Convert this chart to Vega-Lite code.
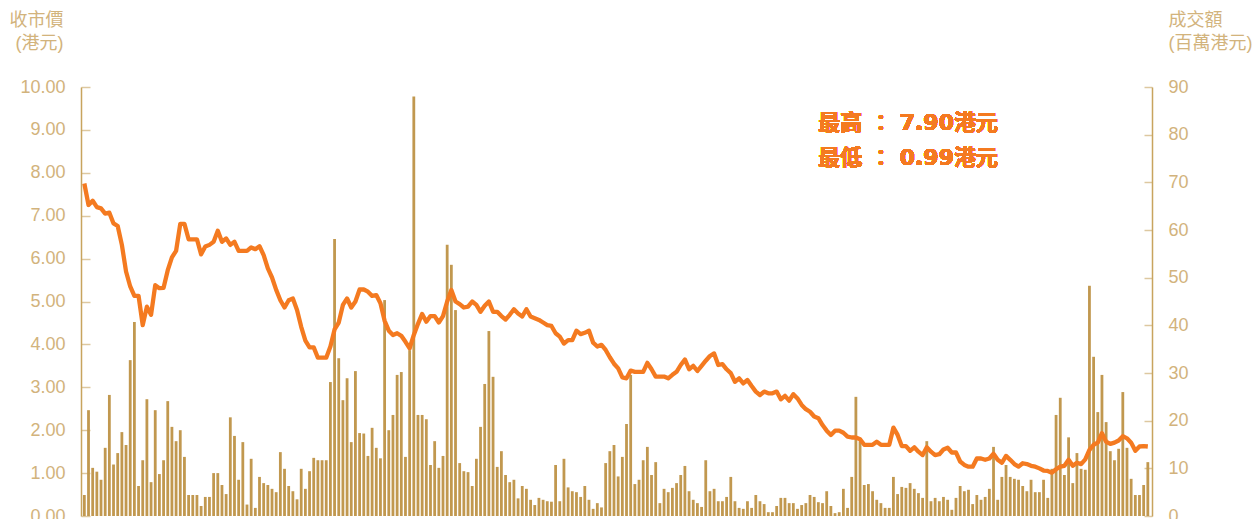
{
"$schema":"https://vega.github.io/schema/vega-lite/v6.json",
"width":1071,"height":429,
"autosize":{"type":"none"},
"padding":{"left":81,"top":87,"right":103,"bottom":3},
"config":{"font":"Liberation Sans, Noto Sans CJK TC","view":{"stroke":null}},
"data":{"values":[
{"i":0,"p":7.75,"v":4.4},{"i":1,"p":7.25,"v":22.2},{"i":2,"p":7.35,"v":10.1},{"i":3,"p":7.2,"v":9.3},{"i":4,"p":7.17,"v":7.6},{"i":5,"p":7.05,"v":14.3},{"i":6,"p":7.07,"v":25.4},{"i":7,"p":6.82,"v":10.8},{"i":8,"p":6.76,"v":13.2},{"i":9,"p":6.32,"v":17.6},
{"i":10,"p":5.7,"v":14.9},{"i":11,"p":5.35,"v":32.7},{"i":12,"p":5.13,"v":40.7},{"i":13,"p":5.13,"v":6.3},{"i":14,"p":4.45,"v":11.7},{"i":15,"p":4.88,"v":24.5},{"i":16,"p":4.69,"v":7.1},{"i":17,"p":5.38,"v":22.2},{"i":18,"p":5.31,"v":8.8},{"i":19,"p":5.32,"v":11.7},
{"i":20,"p":5.73,"v":24.1},{"i":21,"p":6.03,"v":18.7},{"i":22,"p":6.18,"v":15.7},{"i":23,"p":6.81,"v":18.0},{"i":24,"p":6.81,"v":12.4},{"i":25,"p":6.45,"v":4.4},{"i":26,"p":6.45,"v":4.4},{"i":27,"p":6.45,"v":4.4},{"i":28,"p":6.1,"v":2.1},{"i":29,"p":6.28,"v":4.0},
{"i":30,"p":6.32,"v":4.0},{"i":31,"p":6.39,"v":9.0},{"i":32,"p":6.65,"v":9.0},{"i":33,"p":6.39,"v":6.5},{"i":34,"p":6.47,"v":4.6},{"i":35,"p":6.32,"v":20.7},{"i":36,"p":6.39,"v":16.8},{"i":37,"p":6.18,"v":7.6},{"i":38,"p":6.18,"v":15.5},{"i":39,"p":6.18,"v":2.4},
{"i":40,"p":6.26,"v":12.0},{"i":41,"p":6.22,"v":1.7},{"i":42,"p":6.29,"v":8.2},{"i":43,"p":6.08,"v":6.9},{"i":44,"p":5.77,"v":6.5},{"i":45,"p":5.56,"v":5.7},{"i":46,"p":5.27,"v":5.0},{"i":47,"p":5.03,"v":13.4},{"i":48,"p":4.86,"v":9.9},{"i":49,"p":5.03,"v":6.3},
{"i":50,"p":5.07,"v":5.2},{"i":51,"p":4.8,"v":3.5},{"i":52,"p":4.41,"v":9.9},{"i":53,"p":4.09,"v":5.7},{"i":54,"p":3.93,"v":9.4},{"i":55,"p":3.93,"v":12.2},{"i":56,"p":3.69,"v":11.7},{"i":57,"p":3.69,"v":11.7},{"i":58,"p":3.69,"v":11.7},{"i":59,"p":3.95,"v":28.1},
{"i":60,"p":4.35,"v":58.1},{"i":61,"p":4.51,"v":33.1},{"i":62,"p":4.92,"v":24.3},{"i":63,"p":5.07,"v":28.9},{"i":64,"p":4.86,"v":15.5},{"i":65,"p":5.0,"v":30.4},{"i":66,"p":5.28,"v":17.4},{"i":67,"p":5.28,"v":17.3},{"i":68,"p":5.23,"v":12.6},{"i":69,"p":5.13,"v":18.5},
{"i":70,"p":5.15,"v":14.3},{"i":71,"p":4.96,"v":12.1},{"i":72,"p":4.55,"v":45.3},{"i":73,"p":4.32,"v":18.0},{"i":74,"p":4.22,"v":21.2},{"i":75,"p":4.26,"v":29.6},{"i":76,"p":4.2,"v":30.2},{"i":77,"p":4.06,"v":12.4},{"i":78,"p":3.91,"v":34.8},{"i":79,"p":4.22,"v":88},
{"i":80,"p":4.48,"v":21.2},{"i":81,"p":4.71,"v":21.2},{"i":82,"p":4.53,"v":20.3},{"i":83,"p":4.66,"v":10.7},{"i":84,"p":4.66,"v":15.7},{"i":85,"p":4.51,"v":10.1},{"i":86,"p":4.66,"v":12.6},{"i":87,"p":5.0,"v":56.9},{"i":88,"p":5.27,"v":52.7},{"i":89,"p":5.0,"v":43.2},
{"i":90,"p":4.94,"v":11.1},{"i":91,"p":4.86,"v":9.4},{"i":92,"p":4.88,"v":9.2},{"i":93,"p":5.0,"v":6.3},{"i":94,"p":4.92,"v":12.0},{"i":95,"p":4.76,"v":18.7},{"i":96,"p":4.9,"v":27.7},{"i":97,"p":5.0,"v":38.8},{"i":98,"p":4.76,"v":29.2},{"i":99,"p":4.76,"v":10.3},
{"i":100,"p":4.66,"v":13.6},{"i":101,"p":4.58,"v":8.6},{"i":102,"p":4.69,"v":7.1},{"i":103,"p":4.82,"v":7.6},{"i":104,"p":4.72,"v":3.7},{"i":105,"p":4.65,"v":6.3},{"i":106,"p":4.82,"v":5.7},{"i":107,"p":4.65,"v":3.4},{"i":108,"p":4.61,"v":2.3},{"i":109,"p":4.57,"v":3.8},
{"i":110,"p":4.51,"v":3.4},{"i":111,"p":4.45,"v":3.1},{"i":112,"p":4.43,"v":3.0},{"i":113,"p":4.26,"v":10.7},{"i":114,"p":4.18,"v":3.1},{"i":115,"p":4.02,"v":12.0},{"i":116,"p":4.1,"v":6.0},{"i":117,"p":4.1,"v":5.2},{"i":118,"p":4.32,"v":5.0},{"i":119,"p":4.24,"v":4.0},
{"i":120,"p":4.27,"v":6.3},{"i":121,"p":4.32,"v":3.4},{"i":122,"p":4.04,"v":1.5},{"i":123,"p":3.95,"v":2.7},{"i":124,"p":3.99,"v":1.8},{"i":125,"p":3.87,"v":11.1},{"i":126,"p":3.7,"v":13.6},{"i":127,"p":3.55,"v":14.9},{"i":128,"p":3.44,"v":8.3},{"i":129,"p":3.23,"v":12.4},
{"i":130,"p":3.21,"v":19.3},{"i":131,"p":3.39,"v":29.6},{"i":132,"p":3.36,"v":6.7},{"i":133,"p":3.36,"v":7.6},{"i":134,"p":3.36,"v":11.7},{"i":135,"p":3.57,"v":14.5},{"i":136,"p":3.42,"v":8.6},{"i":137,"p":3.25,"v":11.3},{"i":138,"p":3.25,"v":2.7},{"i":139,"p":3.25,"v":5.7},
{"i":140,"p":3.21,"v":5.0},{"i":141,"p":3.29,"v":5.9},{"i":142,"p":3.36,"v":6.9},{"i":143,"p":3.52,"v":8.6},{"i":144,"p":3.65,"v":10.5},{"i":145,"p":3.42,"v":5.2},{"i":146,"p":3.5,"v":3.4},{"i":147,"p":3.38,"v":2.7},{"i":148,"p":3.5,"v":1.9},{"i":149,"p":3.62,"v":11.7},
{"i":150,"p":3.73,"v":5.2},{"i":151,"p":3.79,"v":5.7},{"i":152,"p":3.52,"v":3.1},{"i":153,"p":3.54,"v":3.1},{"i":154,"p":3.42,"v":4.0},{"i":155,"p":3.33,"v":8.2},{"i":156,"p":3.13,"v":3.1},{"i":157,"p":3.21,"v":1.7},{"i":158,"p":3.09,"v":1.5},{"i":159,"p":3.17,"v":3.1},
{"i":160,"p":3.03,"v":1.7},{"i":161,"p":2.9,"v":4.4},{"i":162,"p":2.82,"v":3.1},{"i":163,"p":2.9,"v":2.5},{"i":164,"p":2.86,"v":0.8},{"i":165,"p":2.86,"v":0.8},{"i":166,"p":2.9,"v":2.1},{"i":167,"p":2.72,"v":3.8},{"i":168,"p":2.8,"v":3.8},{"i":169,"p":2.69,"v":2.7},
{"i":170,"p":2.84,"v":2.7},{"i":171,"p":2.74,"v":1.5},{"i":172,"p":2.59,"v":2.3},{"i":173,"p":2.49,"v":2.7},{"i":174,"p":2.43,"v":4.4},{"i":175,"p":2.32,"v":4.0},{"i":176,"p":2.28,"v":2.9},{"i":177,"p":2.12,"v":2.7},{"i":178,"p":1.99,"v":5.2},{"i":179,"p":1.89,"v":2.1},
{"i":180,"p":1.99,"v":0.6},{"i":181,"p":1.99,"v":0.8},{"i":182,"p":1.94,"v":5.7},{"i":183,"p":1.85,"v":1.7},{"i":184,"p":1.83,"v":8.2},{"i":185,"p":1.83,"v":25.0},{"i":186,"p":1.79,"v":15.7},{"i":187,"p":1.66,"v":6.5},{"i":188,"p":1.66,"v":6.7},{"i":189,"p":1.66,"v":5.2},
{"i":190,"p":1.73,"v":3.4},{"i":191,"p":1.66,"v":2.7},{"i":192,"p":1.66,"v":1.7},{"i":193,"p":1.66,"v":1.7},{"i":194,"p":2.06,"v":8.2},{"i":195,"p":1.89,"v":4.6},{"i":196,"p":1.63,"v":6.1},{"i":197,"p":1.63,"v":5.9},{"i":198,"p":1.52,"v":6.9},{"i":199,"p":1.6,"v":5.7},
{"i":200,"p":1.5,"v":4.8},{"i":201,"p":1.42,"v":3.8},{"i":202,"p":1.6,"v":15.7},{"i":203,"p":1.5,"v":3.1},{"i":204,"p":1.42,"v":3.8},{"i":205,"p":1.44,"v":3.1},{"i":206,"p":1.55,"v":4.0},{"i":207,"p":1.59,"v":3.4},{"i":208,"p":1.48,"v":1.3},{"i":209,"p":1.48,"v":3.8},
{"i":210,"p":1.27,"v":6.3},{"i":211,"p":1.19,"v":5.2},{"i":212,"p":1.15,"v":5.5},{"i":213,"p":1.15,"v":2.5},{"i":214,"p":1.34,"v":4.4},{"i":215,"p":1.34,"v":3.4},{"i":216,"p":1.31,"v":4.0},{"i":217,"p":1.34,"v":5.7},{"i":218,"p":1.45,"v":14.5},{"i":219,"p":1.31,"v":3.4},
{"i":220,"p":1.24,"v":8.2},{"i":221,"p":1.4,"v":10.7},{"i":222,"p":1.31,"v":8.2},{"i":223,"p":1.21,"v":7.8},{"i":224,"p":1.15,"v":7.6},{"i":225,"p":1.23,"v":6.3},{"i":226,"p":1.21,"v":5.2},{"i":227,"p":1.17,"v":7.6},{"i":228,"p":1.15,"v":5.0},{"i":229,"p":1.11,"v":5.0},
{"i":230,"p":1.06,"v":7.6},{"i":231,"p":1.05,"v":3.8},{"i":232,"p":1.01,"v":9.9},{"i":233,"p":1.09,"v":21.2},{"i":234,"p":1.15,"v":24.8},{"i":235,"p":1.17,"v":8.6},{"i":236,"p":1.31,"v":16.5},{"i":237,"p":1.17,"v":6.9},{"i":238,"p":1.24,"v":13.2},{"i":239,"p":1.21,"v":9.9},
{"i":240,"p":1.32,"v":9.7},{"i":241,"p":1.54,"v":48.3},{"i":242,"p":1.66,"v":33.4},{"i":243,"p":1.71,"v":21.8},{"i":244,"p":1.93,"v":29.6},{"i":245,"p":1.73,"v":19.7},{"i":246,"p":1.68,"v":13.6},{"i":247,"p":1.71,"v":11.7},{"i":248,"p":1.76,"v":14.1},{"i":249,"p":1.86,"v":26.0},
{"i":250,"p":1.81,"v":14.3},{"i":251,"p":1.71,"v":7.8},{"i":252,"p":1.52,"v":4.4},{"i":253,"p":1.62,"v":4.4},{"i":254,"p":1.63,"v":6.5},{"i":255,"p":1.62,"v":11.3}
]},
"layer":[
{"mark":{"type":"bar","size":2.8,"color":"#C1984F"},
 "encoding":{
  "x":{"field":"i","type":"quantitative","scale":{"domain":[-0.8,256],"nice":false,"zero":false,"padding":0},
       "axis":{"labels":false,"ticks":false,"title":null,"grid":false,"domainColor":"#C8A45E","domainWidth":1.5}},
  "y":{"field":"v","type":"quantitative","scale":{"domain":[0,90],"nice":false},
       "axis":{"orient":"right","values":[0,10,20,30,40,50,60,70,80,90],"grid":false,
               "domainColor":"#C8A45E","domainWidth":1.5,"tickColor":"#DDC8A0","tickSize":-8,"tickWidth":1.5,
               "labelPadding":24,"labelFontSize":18,"labelColor":"#D2B37C",
               "title":["成交額","(百萬港元)"],"titleAngle":0,"titleAlign":"left","titleBaseline":"top",
               "titleX":16,"titleY":-76,"titleFontSize":18,"titleFontWeight":"normal","titleColor":"#D2B37C","titleLineHeight":23}}
 }},
{"layer":[
  {"mark":{"type":"line","color":"#F47A20","strokeWidth":4.3,"strokeJoin":"round"},
   "encoding":{
    "x":{"field":"i","type":"quantitative","axis":null},
    "y":{"field":"p","type":"quantitative","scale":{"domain":[0,10],"nice":false},
         "axis":{"orient":"left","values":[0,1,2,3,4,5,6,7,8,9,10],"format":".2f","grid":false,
               "domainColor":"#C8A45E","domainWidth":1.5,"tickColor":"#DDC8A0","tickSize":-9,"tickWidth":1.5,
               "labelPadding":25,"labelFontSize":18,"labelColor":"#D2B37C",
               "title":["收市價","(港元)"],"titleAngle":0,"titleAlign":"right","titleBaseline":"top",
               "titleX":-18,"titleY":-76,"titleFontSize":18,"titleFontWeight":"normal","titleColor":"#D2B37C","titleLineHeight":23}}
   }},
  {"mark":{"type":"text","align":"left","baseline":"top","fontSize":22,"fontWeight":"bold","font":"DejaVu Sans, Noto Sans CJK TC","color":"#F47A20","lineHeight":35},
   "encoding":{"x":{"datum":176},"y":{"datum":9.39},"text":{"value":["最高 ： 7.90港元","最低 ： 0.99港元"]}}}
 ]}
],
"resolve":{"scale":{"y":"independent"}}
}
